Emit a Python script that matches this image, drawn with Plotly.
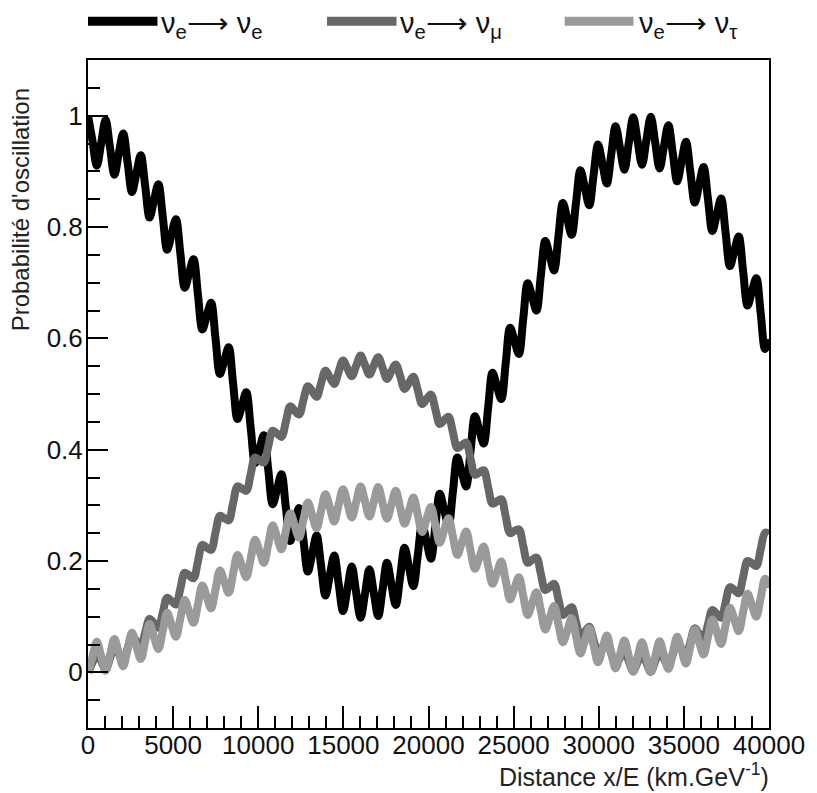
import plotly.graph_objects as go

# x/E values (km/GeV)
x_le = [0, 258, 517, 775, 1033, 1291, 1550, 1808, 2066, 2324, 2583, 2841, 3099, 3357, 3616, 3874,
        4132, 4390, 4649, 4907, 5165, 5423, 5682, 5940, 6198, 6456, 6715, 6973, 7231, 7489, 7748, 8006,
        8264, 8522, 8781, 9039, 9297, 9555, 9814, 10072, 10330, 10588, 10847, 11105, 11363, 11621, 11880,
        12138, 12396, 12654, 12913, 13171, 13429, 13687, 13946, 14204, 14462, 14720, 14979, 15237, 15495,
        15753, 16012, 16270, 16528, 16786, 17045, 17303, 17561, 17819, 18078, 18336, 18594, 18852, 19111,
        19369, 19627, 19885, 20144, 20402, 20660, 20918, 21177, 21435, 21693, 21951, 22210, 22468, 22726,
        22984, 23243, 23501, 23759, 24017, 24276, 24534, 24792, 25050, 25309, 25567, 25825, 26083, 26342,
        26600, 26858, 27116, 27375, 27633, 27891, 28149, 28408, 28666, 28924, 29182, 29441, 29699, 29957,
        30215, 30474, 30732, 30990, 31248, 31507, 31765, 32023, 32281, 32540, 32798, 33056, 33314, 33573,
        33831, 34089, 34347, 34606, 34864, 35122, 35380, 35639, 35897, 36155, 36413, 36672, 36930, 37188,
        37446, 37705, 37963, 38221, 38479, 38738, 38996, 39254, 39512, 39771, 40000]

p_ee = [1.000, 0.956, 0.910, 0.951, 0.992, 0.943, 0.894, 0.932, 0.968, 0.916,
        0.863, 0.896, 0.929, 0.874, 0.817, 0.848, 0.877, 0.819, 0.759, 0.787,
        0.814, 0.753, 0.691, 0.717, 0.742, 0.679, 0.616, 0.640, 0.664, 0.600,
        0.536, 0.560, 0.584, 0.519, 0.455, 0.479, 0.503, 0.440, 0.376, 0.401,
        0.426, 0.364, 0.302, 0.329, 0.356, 0.296, 0.236, 0.265, 0.295, 0.238,
        0.181, 0.213, 0.246, 0.192, 0.138, 0.174, 0.210, 0.160, 0.110, 0.150,
        0.190, 0.143, 0.098, 0.141, 0.185, 0.143, 0.101, 0.149, 0.197, 0.158,
        0.121, 0.172, 0.224, 0.189, 0.155, 0.210, 0.266, 0.235, 0.204, 0.262,
        0.321, 0.292, 0.264, 0.325, 0.386, 0.360, 0.334, 0.397, 0.460, 0.435,
        0.411, 0.475, 0.538, 0.514, 0.491, 0.555, 0.619, 0.596, 0.572, 0.636,
        0.699, 0.675, 0.650, 0.713, 0.775, 0.749, 0.722, 0.783, 0.843, 0.815,
        0.786, 0.844, 0.902, 0.871, 0.839, 0.894, 0.948, 0.914, 0.878, 0.930,
        0.981, 0.942, 0.903, 0.951, 0.997, 0.955, 0.912, 0.956, 0.998, 0.952,
        0.905, 0.945, 0.983, 0.933, 0.882, 0.918, 0.953, 0.899, 0.844, 0.876,
        0.908, 0.851, 0.793, 0.822, 0.851, 0.791, 0.730, 0.757, 0.783, 0.721,
        0.659, 0.684, 0.708, 0.645, 0.581, 0.599]

p_emu = [0.000, 0.017, 0.035, 0.020, 0.005, 0.025, 0.046, 0.033, 0.021, 0.043,
         0.066, 0.056, 0.046, 0.071, 0.096, 0.088, 0.080, 0.107, 0.134, 0.128,
         0.122, 0.150, 0.179, 0.174, 0.169, 0.199, 0.229, 0.224, 0.220, 0.251,
         0.281, 0.277, 0.273, 0.304, 0.334, 0.330, 0.326, 0.356, 0.386, 0.381,
         0.377, 0.406, 0.434, 0.429, 0.423, 0.450, 0.478, 0.470, 0.463, 0.489,
         0.514, 0.505, 0.495, 0.519, 0.542, 0.530, 0.518, 0.540, 0.560, 0.546,
         0.532, 0.551, 0.569, 0.552, 0.535, 0.551, 0.566, 0.547, 0.527, 0.541,
         0.553, 0.532, 0.509, 0.520, 0.531, 0.507, 0.482, 0.491, 0.499, 0.473,
         0.446, 0.453, 0.459, 0.431, 0.403, 0.408, 0.413, 0.384, 0.355, 0.359,
         0.363, 0.333, 0.303, 0.307, 0.311, 0.280, 0.250, 0.254, 0.257, 0.227,
         0.197, 0.202, 0.206, 0.177, 0.148, 0.153, 0.159, 0.131, 0.103, 0.110,
         0.117, 0.090, 0.064, 0.073, 0.082, 0.058, 0.034, 0.045, 0.056, 0.034,
         0.013, 0.026, 0.040, 0.020, 0.002, 0.018, 0.034, 0.017, 0.001, 0.020,
         0.039, 0.024, 0.011, 0.032, 0.054, 0.042, 0.031, 0.054, 0.079, 0.069,
         0.060, 0.086, 0.112, 0.105, 0.098, 0.125, 0.153, 0.148, 0.142, 0.171,
         0.200, 0.196, 0.191, 0.221, 0.251, 0.249]

p_etau = [0.000, 0.027, 0.055, 0.029, 0.003, 0.031, 0.060, 0.035, 0.011, 0.041,
          0.071, 0.047, 0.024, 0.055, 0.087, 0.064, 0.042, 0.074, 0.107, 0.085,
          0.064, 0.097, 0.130, 0.109, 0.089, 0.122, 0.156, 0.136, 0.115, 0.149,
          0.183, 0.163, 0.143, 0.177, 0.211, 0.191, 0.171, 0.204, 0.238, 0.218,
          0.197, 0.230, 0.264, 0.243, 0.221, 0.254, 0.286, 0.264, 0.242, 0.274,
          0.305, 0.282, 0.259, 0.290, 0.320, 0.296, 0.271, 0.301, 0.329, 0.304,
          0.278, 0.306, 0.334, 0.307, 0.280, 0.306, 0.333, 0.304, 0.276, 0.301,
          0.326, 0.296, 0.267, 0.290, 0.314, 0.283, 0.252, 0.275, 0.297, 0.265,
          0.233, 0.255, 0.277, 0.244, 0.211, 0.232, 0.253, 0.219, 0.186, 0.206,
          0.226, 0.192, 0.159, 0.179, 0.199, 0.165, 0.131, 0.151, 0.171, 0.137,
          0.103, 0.124, 0.144, 0.111, 0.077, 0.098, 0.119, 0.086, 0.054, 0.075,
          0.097, 0.065, 0.034, 0.056, 0.079, 0.048, 0.018, 0.042, 0.066, 0.036,
          0.007, 0.032, 0.057, 0.029, 0.001, 0.027, 0.054, 0.027, 0.001, 0.028,
          0.056, 0.031, 0.006, 0.035, 0.064, 0.040, 0.016, 0.047, 0.077, 0.054,
          0.032, 0.063, 0.095, 0.073, 0.051, 0.084, 0.116, 0.095, 0.074, 0.108,
          0.141, 0.121, 0.100, 0.134, 0.168, 0.152]

series_names = ["ν<sub>e</sub>⟶ ν<sub>e</sub>", "ν<sub>e</sub>⟶ ν<sub>μ</sub>", "ν<sub>e</sub>⟶ ν<sub>τ</sub>"]
series_values = [p_ee, p_emu, p_etau]
series_colors = ["#000000", "#676767", "#9a9a9a"]

y_ticks = [0, 0.2, 0.4, 0.6, 0.8, 1.0]
y_tick_text = ["0", "0.2", "0.4", "0.6", "0.8", "1"]
x_ticks = [0, 5000, 10000, 15000, 20000, 25000, 30000, 35000, 40000]
x_tick_text = ["0", "5000", "10000", "15000", "20000", "25000", "30000", "35000", "40000"]

FONT = "Liberation Sans, Arial, sans-serif"

fig = go.Figure()
for name, vals, col in zip(series_names, series_values, series_colors):
    fig.add_trace(go.Scatter(x=x_le, y=vals, mode="lines", name=name, showlegend=False,
                             line=dict(color=col, width=8, shape="spline", smoothing=1.0)))

# legend drawn above the frame (ROOT style)
leg_line_x = [(0.0, 0.102), (0.351, 0.453), (0.700, 0.801)]
leg_text_x = [0.104, 0.455, 0.806]
for (x0, x1), tx, name, col in zip(leg_line_x, leg_text_x, series_names, series_colors):
    fig.add_shape(type="line", xref="paper", yref="paper", x0=x0, x1=x1, y0=1.058, y1=1.058,
                  line=dict(color=col, width=9))
    fig.add_annotation(xref="paper", yref="paper", x=tx, y=1.052, xanchor="left", yanchor="middle",
                       text=name, showarrow=False, font=dict(family=FONT, size=29, color="#111"))

fig.add_annotation(xref="paper", yref="paper", x=-0.0987, y=0.961, xanchor="center", yanchor="top",
                   text="Probabilité d'oscillation", textangle=-90, showarrow=False,
                   font=dict(family=FONT, size=24, color="#222"))
fig.add_annotation(xref="paper", yref="paper", x=1.0015, y=-0.0705, xanchor="right", yanchor="middle",
                   text="Distance x/E (km.GeV<sup>-1</sup>)", showarrow=False, borderpad=0,
                   font=dict(family=FONT, size=25, color="#222"))

# page body adds an 8px offset; figure size/margins compensate so the frame sits at 88..777 x 60..728
fig.update_layout(
    width=809, height=785,
    margin=dict(l=80, r=40, t=52, b=65),
    plot_bgcolor="white", paper_bgcolor="white",
    font=dict(family=FONT, size=26, color="#111"),
    showlegend=False,
)
fig.update_xaxes(range=[0, 40000], tickvals=x_ticks, ticktext=x_tick_text, ticks="inside", ticklen=22,
                 tickwidth=2, tickcolor="black", showline=True, linewidth=2, linecolor="black", mirror=True,
                 showgrid=False, zeroline=False, tickfont=dict(size=26), ticklabelstandoff=-7,
                 minor=dict(dtick=1000, tick0=0, ticks="inside", ticklen=12, tickwidth=2, tickcolor="black", showgrid=False))
fig.update_yaxes(range=[-0.1, 1.1], tickvals=y_ticks, ticktext=y_tick_text, ticks="inside", ticklen=20,
                 tickwidth=2, tickcolor="black", showline=True, linewidth=2, linecolor="black", mirror=True,
                 showgrid=False, zeroline=False, tickfont=dict(size=26), ticklabelstandoff=-2,
                 minor=dict(dtick=0.05, tick0=0, ticks="inside", ticklen=12, tickwidth=2, tickcolor="black", showgrid=False))

fig.write_html("out.html")
